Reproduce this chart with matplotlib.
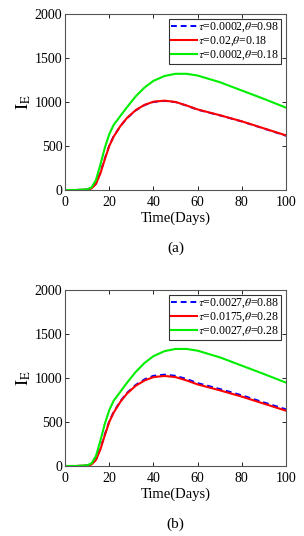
import matplotlib
matplotlib.use("Agg")
import matplotlib.pyplot as plt

plt.rcParams["font.family"] = ["Liberation Serif", "DejaVu Serif"]
plt.rcParams["mathtext.fontset"] = "stix"

# time grid shared by all curves
days = [0, 5, 10, 12, 14, 16, 18, 20, 22, 25, 28, 32, 36, 40, 45, 50, 55, 60, 70, 80, 90, 100]

# panel (a)
a_blue = [0, 0, 5, 20, 75, 200, 360, 505, 610, 725, 815, 905, 965, 1000, 1012, 998, 958, 912, 848, 778, 698, 616]
a_red = [0, 0, 5, 18, 70, 190, 350, 500, 607, 725, 818, 908, 968, 1003, 1015, 1000, 960, 915, 850, 780, 700, 620]
a_green = [0, 0, 8, 30, 115, 290, 480, 635, 740, 840, 940, 1065, 1165, 1240, 1295, 1320, 1320, 1300, 1225, 1130, 1035, 935]
a_labels = [r"$\tau$=0.0002,$\theta$=0.98", r"$\tau$=0.02,$\theta$=0.18", r"$\tau$=0.0002,$\theta$=0.18"]

# panel (b)
b_blue = [0, 0, 5, 20, 75, 200, 360, 508, 615, 735, 830, 922, 985, 1025, 1038, 1025, 988, 942, 875, 803, 722, 644]
b_red = [0, 0, 5, 18, 70, 190, 350, 500, 607, 728, 822, 912, 972, 1010, 1023, 1010, 972, 927, 860, 788, 708, 628]
b_green = [0, 0, 8, 30, 115, 290, 480, 635, 742, 843, 945, 1070, 1172, 1248, 1305, 1330, 1330, 1310, 1235, 1140, 1045, 947]
b_labels = [r"$\tau$=0.0027,$\theta$=0.88", r"$\tau$=0.0175,$\theta$=0.28", r"$\tau$=0.0027,$\theta$=0.28"]

fig = plt.figure(figsize=(3.04, 5.36), dpi=100)


def draw_panel(rect, blue, red, green, labels, tag):
    ax = fig.add_axes(rect)
    ax.plot(days, blue, color="#0000ff", linestyle="--", linewidth=1.4, dashes=(3, 2), label=labels[0])
    ax.plot(days, red, color="#ff0000", linewidth=1.5, label=labels[1])
    ax.plot(days, green, color="#00ee00", linewidth=1.5, label=labels[2])
    ax.set_xlim(0, 100)
    ax.set_ylim(0, 2000)
    ax.set_xticks(range(0, 101, 20))
    ax.set_yticks(range(0, 2001, 500))
    ax.tick_params(direction="in", top=True, right=True, labelsize=10, length=3, width=0.6)
    ax.tick_params(axis="x", pad=4)
    ax.tick_params(axis="y", pad=2)
    for s in ax.spines.values():
        s.set_color("#555555")
        s.set_linewidth(0.8)
    ax.set_xlabel("Time(Days)", fontsize=10.5, labelpad=2)
    ax.set_ylabel(r"$\mathrm{I_E}$", fontsize=13, labelpad=1)
    leg = ax.legend(loc="upper right", fontsize=8.5, frameon=True, fancybox=False,
                    edgecolor="black", handlelength=2.2, handletextpad=0.1,
                    borderpad=0.15, labelspacing=0.05, borderaxespad=0.4)
    leg.get_frame().set_linewidth(0.8)
    ax.text(0.5, -0.29, tag, transform=ax.transAxes, ha="center", va="top", fontsize=11)
    return ax


draw_panel([0.214, 0.6455, 0.727, 0.3285], a_blue, a_red, a_green, a_labels, "(a)")
draw_panel([0.214, 0.1306, 0.727, 0.3284], b_blue, b_red, b_green, b_labels, "(b)")

fig.savefig("out.png", dpi=100)
